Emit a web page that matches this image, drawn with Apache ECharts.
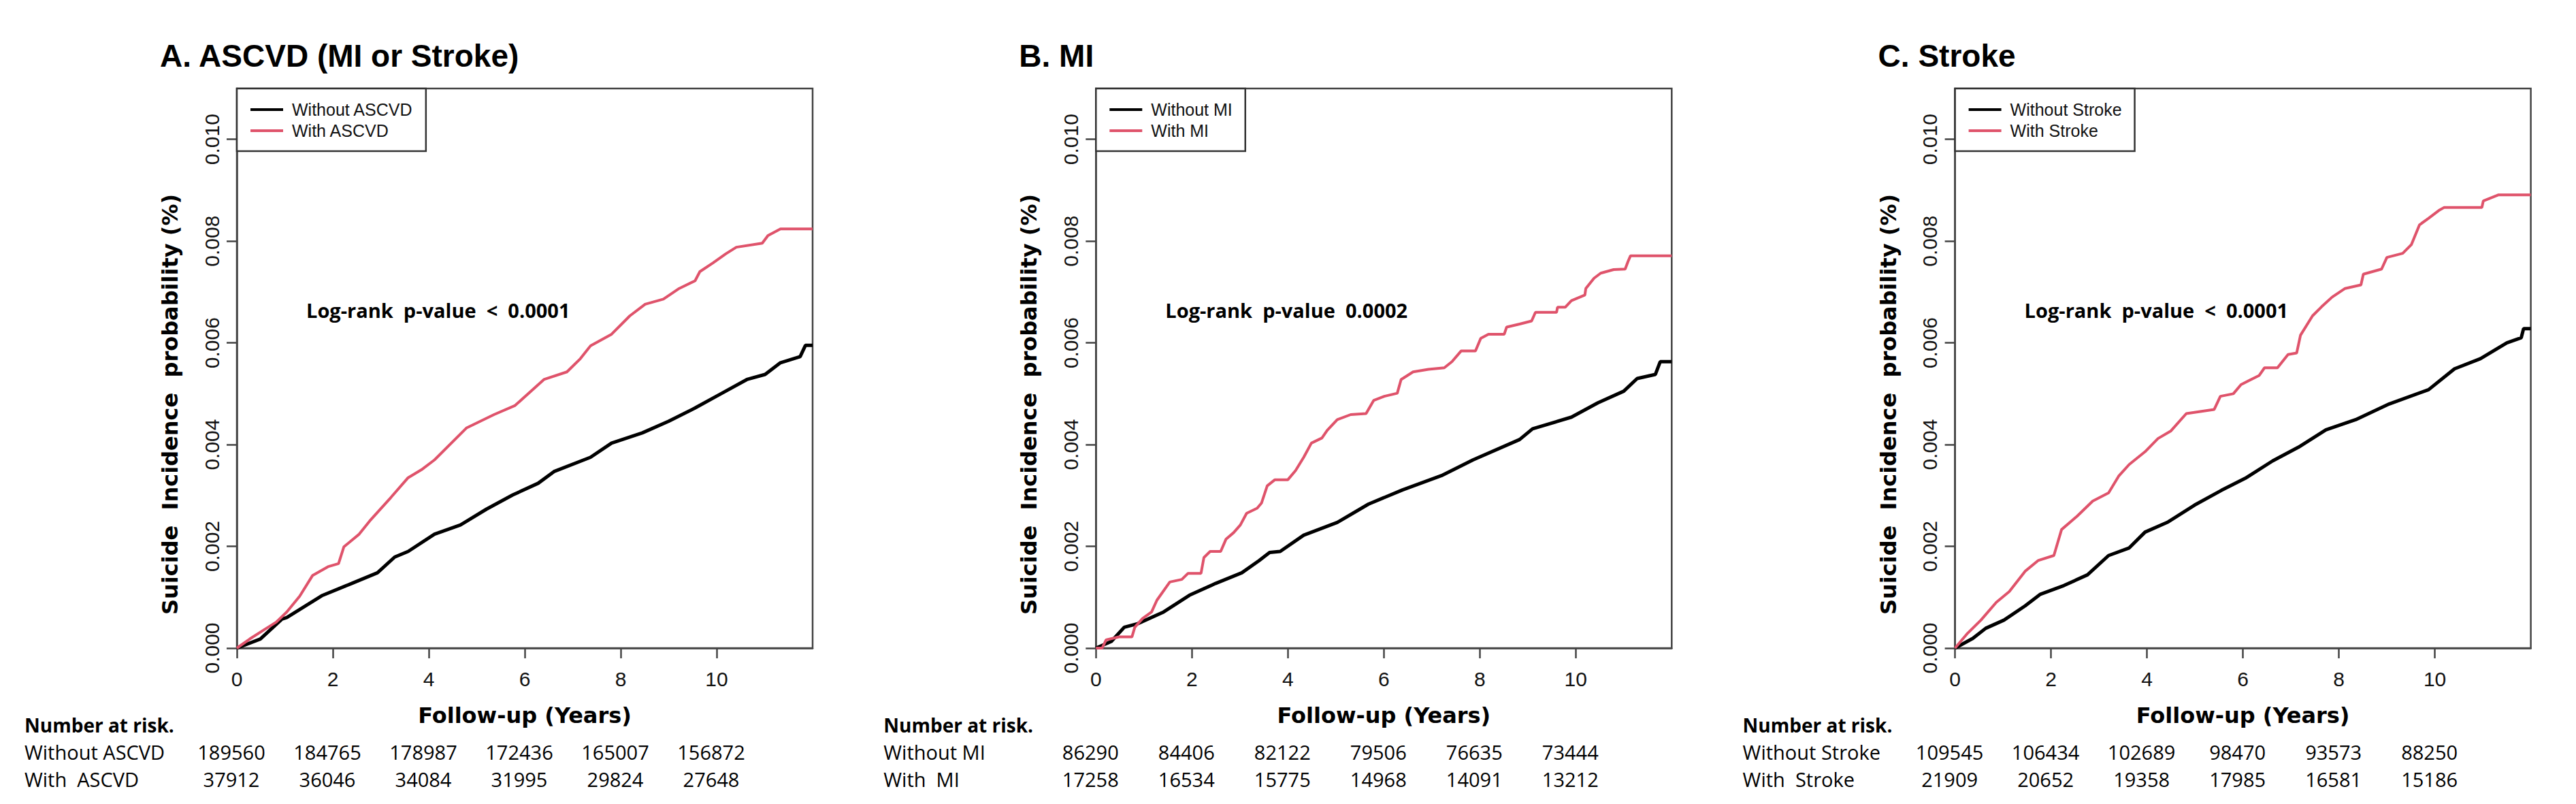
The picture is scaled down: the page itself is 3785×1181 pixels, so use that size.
<!DOCTYPE html>
<html>
<head>
<meta charset="utf-8">
<script src="https://cdn.jsdelivr.net/npm/echarts@6/dist/echarts.min.js"></script>
<style>
html, body { margin: 0; padding: 0; background: #fff; }
#chart { width: 3785px; height: 1181px; }
</style>
</head>
<body>
<div id="chart"></div>
<script>
// ---- data (follow-up years, cumulative incidence) ----
var xTicks = [0, 2, 4, 6, 8, 10];
var yTicks = [0, 0.002, 0.004, 0.006, 0.008, 0.010];
var riskTimes = [0, 2, 4, 6, 8, 10];

var panelTitles = ['A. ASCVD (MI or Stroke)', 'B. MI', 'C. Stroke'];
var groupNames = [
    ['Without ASCVD', 'With ASCVD'],
    ['Without MI', 'With MI'],
    ['Without Stroke', 'With Stroke']
];
var pValueTexts = [
    'Log-rank\u00a0 p-value\u00a0 <\u00a0 0.0001',
    'Log-rank\u00a0 p-value\u00a0 0.0002',
    'Log-rank\u00a0 p-value\u00a0 <\u00a0 0.0001'
];

var ascvdWithout = [[0,0],[0.49,0.00018],[0.94,0.00057],[1.04,0.00060],[1.77,0.00103],[2.39,0.00127],[2.93,0.00148],[3.29,0.00179],
    [3.57,0.0019],[4.12,0.00224],[4.66,0.00242],[5.20,0.00273],[5.75,0.00301],[6.28,0.00324],[6.61,0.00347],[7.37,0.00375],
    [7.81,0.00403],[8.45,0.00423],[9.0,0.00446],[9.55,0.00472],[10.09,0.00500],[10.63,0.00528],[11.01,0.00538],[11.33,0.00561],
    [11.74,0.00573],[11.85,0.00595],[12,0.00595]];
var ascvdWith = [[0,0],[0.27,0.00018],[0.55,0.00035],[0.82,0.00051],[1.04,0.00071],[1.31,0.00102],[1.58,0.00143],[1.90,0.00160],
    [2.12,0.00166],[2.23,0.00199],[2.55,0.00224],[2.77,0.00250],[3.21,0.00296],[3.57,0.00335],[3.87,0.00352],[4.12,0.00370],
    [4.79,0.00433],[5.36,0.00459],[5.80,0.00477],[6.40,0.00528],[6.88,0.00543],[7.16,0.00569],[7.37,0.00594],[7.81,0.00617],
    [8.19,0.00653],[8.51,0.00676],[8.89,0.00686],[9.22,0.00707],[9.55,0.00722],[9.65,0.00740],[9.92,0.00757],[10.19,0.00775],
    [10.41,0.00788],[10.95,0.00796],[11.07,0.00811],[11.33,0.00824],[12,0.00824]];

var miWithout = [[0,0],[0.32,0.00013],[0.59,0.00041],[0.87,0.00048],[1.41,0.00071],[1.95,0.00104],[2.49,0.00127],[3.04,0.00148],
    [3.40,0.00172],[3.62,0.00188],[3.84,0.0019],[4.33,0.00222],[5.03,0.00247],[5.68,0.00283],[6.39,0.00311],[7.20,0.00339],
    [7.86,0.00370],[8.83,0.00410],[9.10,0.00431],[9.91,0.00454],[10.46,0.00482],[11.0,0.00505],[11.28,0.00530],[11.66,0.00538],
    [11.76,0.00563],[12,0.00563]];
var miWith = [[0,0],[0.13,0],[0.21,0.00016],[0.48,0.00022],[0.75,0.00022],[0.81,0.00041],[0.97,0.00058],[1.16,0.00071],
    [1.27,0.00094],[1.54,0.00130],[1.79,0.00135],[1.92,0.00147],[2.19,0.00147],[2.25,0.00178],[2.38,0.00190],[2.60,0.00190],
    [2.71,0.00214],[2.87,0.00227],[3.01,0.00242],[3.14,0.00265],[3.36,0.00275],[3.45,0.00285],[3.57,0.00319],[3.73,0.00331],
    [4.0,0.00331],[4.16,0.00349],[4.33,0.00375],[4.49,0.00403],[4.71,0.00413],[4.82,0.00428],[5.03,0.00449],[5.31,0.00459],
    [5.63,0.00461],[5.79,0.00487],[6.01,0.00495],[6.28,0.00501],[6.36,0.00528],[6.61,0.00543],[6.93,0.00548],[7.26,0.00551],
    [7.42,0.00563],[7.61,0.00584],[7.91,0.00584],[8.02,0.00609],[8.18,0.00617],[8.51,0.00617],[8.56,0.00631],[8.83,0.00637],
    [9.08,0.00643],[9.16,0.00660],[9.60,0.00660],[9.62,0.00670],[9.78,0.00670],[9.91,0.00683],[10.19,0.00694],[10.21,0.00707],
    [10.38,0.00727],[10.52,0.00737],[10.79,0.00744],[11.03,0.00745],[11.09,0.00760],[11.14,0.00771],[12,0.00771]];

var strokeWithout = [[0,0],[0.37,0.00019],[0.64,0.00039],[1.02,0.00055],[1.46,0.00083],[1.78,0.00106],[2.27,0.00123],[2.76,0.00144],
    [3.20,0.00182],[3.63,0.00197],[3.96,0.00228],[4.44,0.00248],[4.99,0.00281],[5.55,0.00310],[6.07,0.00335],[6.62,0.00368],
    [7.16,0.00395],[7.73,0.00429],[8.35,0.00449],[9.05,0.00480],[9.87,0.00508],[10.41,0.00549],[10.95,0.00569],[11.50,0.00600],
    [11.80,0.00610],[11.85,0.00628],[12,0.00628]];
var strokeWith = [[0,0],[0.26,0.00029],[0.54,0.00055],[0.86,0.00090],[1.13,0.00111],[1.46,0.00151],[1.73,0.00172],[2.06,0.00182],
    [2.22,0.00233],[2.54,0.00259],[2.87,0.00289],[3.20,0.00305],[3.41,0.00338],[3.63,0.00361],[3.96,0.00386],[4.23,0.00412],
    [4.50,0.00427],[4.82,0.00461],[5.40,0.00469],[5.53,0.00495],[5.80,0.00500],[5.96,0.00518],[6.34,0.00536],[6.45,0.00551],
    [6.72,0.00551],[6.94,0.00577],[7.12,0.00580],[7.20,0.00615],[7.45,0.00653],[7.64,0.00671],[7.86,0.00690],[8.13,0.00707],
    [8.46,0.00714],[8.51,0.00735],[8.89,0.00745],[9.0,0.00768],[9.33,0.00776],[9.51,0.00793],[9.68,0.00832],[9.87,0.00845],
    [10.08,0.00860],[10.19,0.00866],[10.98,0.00866],[11.01,0.00879],[11.33,0.00891],[12,0.00891]];

// number at risk
var riskAscvdWithout = [189560, 184765, 178987, 172436, 165007, 156872];
var riskAscvdWith = [37912, 36046, 34084, 31995, 29824, 27648];
var riskMiWithout = [86290, 84406, 82122, 79506, 76635, 73444];
var riskMiWith = [17258, 16534, 15775, 14968, 14091, 13212];
var riskStrokeWithout = [109545, 106434, 102689, 98470, 93573, 88250];
var riskStrokeWith = [21909, 20652, 19358, 17985, 16581, 15186];

var curves = [[ascvdWithout, ascvdWith], [miWithout, miWith], [strokeWithout, strokeWith]];
var risks = [[riskAscvdWithout, riskAscvdWith], [riskMiWithout, riskMiWith], [riskStrokeWithout, riskStrokeWith]];

// ---- layout ----
var PANEL_DX = 1262.3;
var GRID_LEFT = 348, GRID_TOP = 130, GRID_W = 846, GRID_H = 822;
var colors = ['#000000', '#DF536B'];
var axisColor = '#444';

var myChart = echarts.init(document.getElementById('chart'), null, {renderer: 'svg'});

var grids = [], xAxes = [], yAxes = [], series = [], legends = [];
for (var i = 0; i < 3; i++) {
    var left = GRID_LEFT + i * PANEL_DX;
    grids.push({
        left: left, top: GRID_TOP, width: GRID_W, height: GRID_H,
        show: true, borderColor: axisColor, borderWidth: 2.5
    });
    xAxes.push({
        gridIndex: i, type: 'value', min: 0, max: 12,
        axisLine: {show: true, onZero: false, lineStyle: {color: axisColor, width: 2.5}},
        axisTick: {show: true, length: 15, customValues: xTicks, lineStyle: {color: axisColor, width: 2.5}},
        axisLabel: {customValues: xTicks, margin: 30, fontSize: 30, fontFamily: 'Liberation Sans', color: '#111'},
        splitLine: {show: false}
    });
    yAxes.push({
        gridIndex: i, type: 'value', min: 0, max: 0.011,
        axisLine: {show: true, onZero: false, lineStyle: {color: axisColor, width: 2.5}},
        axisTick: {show: true, length: 15, customValues: yTicks, lineStyle: {color: axisColor, width: 2.5}},
        axisLabel: {
            customValues: yTicks, rotate: 90, margin: 22, fontSize: 30,
            fontFamily: 'Liberation Sans', color: '#111',
            formatter: function (v) { return v.toFixed(3); }
        },
        splitLine: {show: false}
    });
    for (var k = 0; k < 2; k++) {
        series.push({
            name: groupNames[i][k],
            type: 'line',
            xAxisIndex: i, yAxisIndex: i,
            data: curves[i][k],
            showSymbol: false, symbol: 'none',
            itemStyle: {color: colors[k]},
            lineStyle: {color: colors[k], width: k === 0 ? 5 : 4},
            z: 3 + k
        });
    }
    legends.push({
        data: groupNames[i],
        left: left, top: GRID_TOP,
        orient: 'vertical', align: 'left',
        icon: 'rect', itemWidth: 48, itemHeight: 4, itemGap: 5,
        padding: [18, 19, 17, 20],
        borderColor: '#333', borderWidth: 2.5, backgroundColor: '#fff',
        selectedMode: false,
        textStyle: {fontFamily: 'Liberation Sans', fontSize: 25, color: '#111', lineHeight: 26, padding: [0, 0, 0, 8]}
    });
}

var option = {
    backgroundColor: '#ffffff',
    animation: false,
    grid: grids,
    xAxis: xAxes,
    yAxis: yAxes,
    legend: legends,
    series: series
};
myChart.setOption(option);

// ---- annotation text, placed through the axes ----
var graphics = [];
function addText(x, y, text, font, align, rotation) {
    graphics.push({
        type: 'text', x: x, y: y, rotation: rotation || 0, silent: true,
        style: {text: text, font: font, fill: '#000', align: align || 'left', verticalAlign: 'middle'}
    });
}
var titleFont = 'bold 46px "Liberation Sans"';
var axisTitleFont = 'bold 32px "DejaVu Sans"';
var noteFont = 'bold 29px "Open Sans"';
var riskFont = '29px "Open Sans"';
var riskHeadFont = 'bold 28px "Open Sans"';

for (var p = 0; p < 3; p++) {
    var origin = myChart.convertToPixel({gridIndex: p}, [0, 0]);
    var gl = origin[0], gb = origin[1];
    var gc = myChart.convertToPixel({gridIndex: p}, [6, 0])[0];
    addText(gl - 113, 82, panelTitles[p], titleFont, 'left');
    addText(gl - 98, 594, 'Suicide\u00a0 Incidence\u00a0 probability (%)', axisTitleFont, 'center', Math.PI / 2);
    addText(gc, gb + 99, 'Follow-up (Years)', axisTitleFont, 'center');
    addText(gl + 102, GRID_TOP + 325, pValueTexts[p], noteFont, 'left');

    var lx = gl - 312;
    addText(lx, 1065, 'Number at risk.', riskHeadFont, 'left');
    addText(lx, 1104, groupNames[p][0], riskFont, 'left');
    addText(lx, 1144, groupNames[p][1].replace(' ', '\u00a0 '), riskFont, 'left');
    for (var j = 0; j < riskTimes.length; j++) {
        var tx = myChart.convertToPixel({gridIndex: p}, [riskTimes[j], 0])[0] - 8;
        addText(tx, 1104, String(risks[p][0][j]), riskFont, 'center');
        addText(tx, 1144, String(risks[p][1][j]), riskFont, 'center');
    }
}
myChart.setOption({graphic: graphics});
</script>
</body>
</html>
